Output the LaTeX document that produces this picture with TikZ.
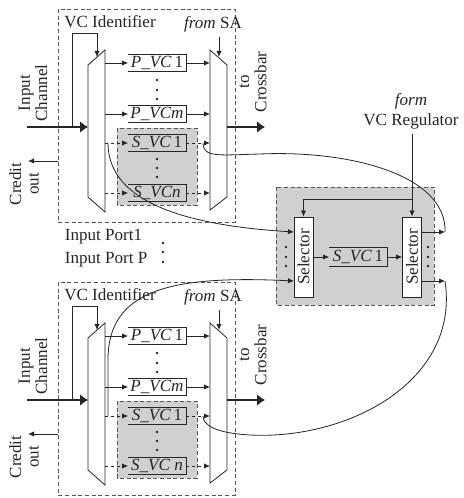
\documentclass[tikz,border=0pt]{standalone}
\usepackage{fontspec}
\setmainfont{Liberation Serif}
\usetikzlibrary{arrows.meta}
\definecolor{Ink}{HTML}{262626}
\definecolor{Frame}{HTML}{555555}
\definecolor{Shade}{HTML}{D0D0D0}

\begin{document}
\begin{tikzpicture}[x=0.75pt,y=-0.75pt,color=Ink,line width=0.6pt,font=\fontsize{12.8}{13}\selectfont,>={Latex[length=4.5pt,width=4pt]},port/.style={draw=Frame,dash pattern=on 3pt off 2pt},pool/.style={port,fill=Shade},mux/.style={draw,fill=white},vcq/.style={inner sep=0pt,minimum width=42.75pt,minimum height=12pt},sel/.style={draw,fill=white,rotate=90,inner sep=0pt,minimum width=60pt,minimum height=14.25pt},lbl/.style={rotate=90,align=center,inner sep=0pt},vcdot/.style={circle,fill,inner sep=0pt,minimum size=2.2pt},flow/.style={->},sflow/.style={->,dash pattern=on 2.5pt off 2pt},bus/.style={-{Latex[length=6pt,width=9pt]},line width=2.2pt}]
 \useasboundingbox (0,0) rectangle (463,498);
 % input port 1 and input port P
 \foreach \p/\dy/\sn in {a/0/n,b/273/{\ n}}{
 \begin{scope}[shift={(0,\dy)}]
  \draw[port] (58,9) rectangle (235,222);
  \draw[pool] (117,128) rectangle (197,205);
  \draw[mux] (88,65) -- (105,50) -- (105,212) -- (88,197) -- cycle;
  \draw[mux] (210,50) -- (227,65) -- (227,197) -- (210,210) -- cycle;
  \coordinate (li\p) at (88,127); \coordinate (lo\p) at (105,127);
  \coordinate (ri\p) at (210,127); \coordinate (ro\p) at (227,127);
  \coordinate (chan\p) at (27,127); \coordinate (xbar\p) at (265,127);
  \coordinate (tap\p) at (72,127); \coordinate (bend\p) at (97,33);
  \coordinate (vcid\p) at (97,57); \coordinate (sa\p) at (219,57);
  \coordinate (cb\p) at (58,161); \coordinate (cred\p) at (28,161);
  \coordinate (branch\p) at (108,143); \coordinate (mrg\p) at (203,143);
  \node (id\p) at (110,22) {VC Identifier};
  \node (from\p) at (213,24) {\textit{from} SA};
  \node[lbl] (chl\p) at (33,93) {Input\\Channel};
  \node[lbl] (crl\p) at (24,184) {Credit\\out};
  \node[lbl] (xbl\p) at (253,82) {to\\Crossbar};
  \node[vcq] (q1\p) at (157,63) {\textit{P\_VC}\,1};
  \node[vcq] (qm\p) at (157,114) {\textit{P\_VCm}};
  \node[vcq] (s1\p) at (157,143) {\textit{S\_VC}\,1};
  \node[vcq] (sn\p) at (157,193) {\textit{S\_VC\sn}};
  \foreach \q in {q1,qm,s1,sn}
   \draw (\q\p.north west) -| (\q\p.south east) -- (\q\p.south west);
  \foreach \y in {80,90,99,159,168,177}
   \node[vcdot] (d\p\y) at (157,\y) {};
  \foreach \q in {q1,qm}{
   \draw[flow] (\q\p -| lo\p) -- (\q\p);
   \draw[flow] (\q\p) -- (\q\p -| ri\p);}
  \foreach \q in {s1,sn}{
   \draw[sflow] (\q\p -| lo\p) -- (\q\p);
   \draw[sflow] (\q\p) -- (\q\p -| ri\p);}
  \draw[bus] (chan\p) -- (li\p);
  \draw[bus] (ro\p) -- (xbar\p);
  \draw[flow] (tap\p) |- (bend\p) -- (vcid\p);
  \draw[flow] (from\p.south -| sa\p) -- (sa\p);
  \draw[flow] (cb\p) -- (cred\p);
 \end{scope}}
 \node[anchor=west] (port1) at (60,237) {Input Port1};
 \node[anchor=west] (portP) at (60,260) {Input Port P};
 \foreach \y in {243,252,262}
  \node[vcdot] (pd\y) at (163,\y) {};
 % shared VC regulator
 \draw[pool] (276,187) rectangle (434,305);
 \node[sel] (lsel) at (303.5,257) {Selector};
 \node[sel] (rsel) at (412,257) {Selector};
 \node[vcq,minimum height=14pt] (mid) at (358,257) {\textit{S\_VC}\,1};
 \draw (mid.north west) -| (mid.south east) -- (mid.south west);
 \draw[flow] (lsel) -- (mid);
 \draw[flow] (mid) -- (rsel);
 \node[align=center] (reg) at (411,111) {\textit{form}\\[2pt]VC Regulator};
 \coordinate (fork) at (412,199);
 \draw[flow] (reg.south -| rsel) -- (rsel);
 \draw[flow] (fork) -| (lsel);
 \coordinate (in1) at (294,232); \coordinate (in2) at (294,281);
 \coordinate (out1) at (445,232); \coordinate (out2) at (445,281);
 \draw[flow] (out1 -| rsel.south) -- (out1);
 \draw[flow] (out2 -| rsel.south) -- (out2);
 \foreach \y in {247,257,266}{
  \node[vcdot] (ld\y) at (286,\y) {};
  \node[vcdot] (rd\y) at (428,\y) {};}
 % links between the ports and the regulator
 \draw (out1) .. controls (447,175) and (350,150) .. (260,154) .. controls (220,155) and (203,158) .. (mrga);
 \draw[flow] (brancha) .. controls (108,200) and (180,225) .. (in1);
 \draw[flow] (branchb) -- (108,360) .. controls (108,290) and (170,275) .. (in2);
 \draw (out2) .. controls (460,380) and (350,440) .. (250,435) .. controls (215,433) and (203,425) .. (mrgb);
\end{tikzpicture}
\end{document}
